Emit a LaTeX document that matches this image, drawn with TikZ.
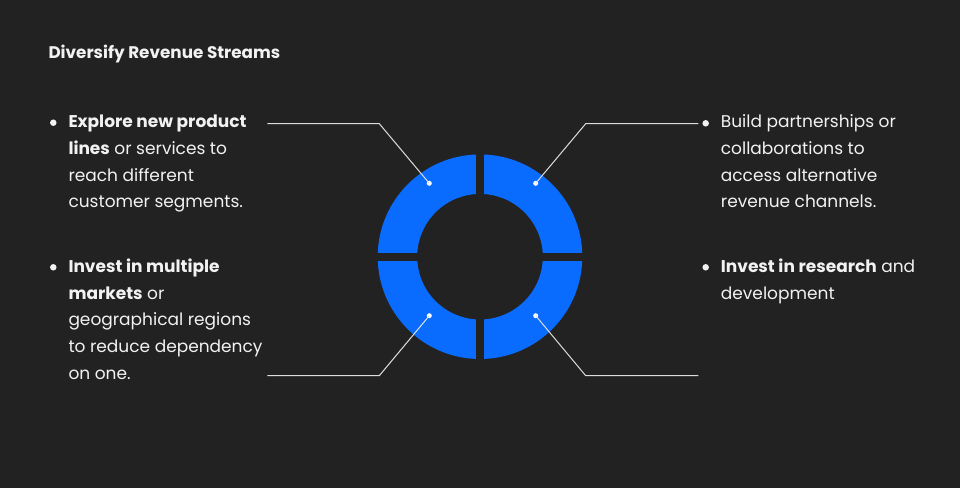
\documentclass[tikz,border=0pt]{standalone}
\usepackage{fontspec}
\setmainfont{Poppins}
\usetikzlibrary{positioning}
\definecolor{bgcolor}{HTML}{222222}
\definecolor{ringblue}{HTML}{0A6CFF}
\definecolor{txtcolor}{HTML}{F2F2F2}
\definecolor{linecolor}{HTML}{DDDDDD}

\begin{document}
\begin{tikzpicture}[x=1pt, y=-1pt, every node/.style={font=\fontsize{17}{26.7}\selectfont, text=txtcolor}]
\tikzstyle{txt}=[anchor=base west, inner sep=0pt, align=left]
\tikzstyle{dot}=[circle, fill=white, inner sep=0pt, minimum size=5pt]
\tikzstyle{bul}=[circle, fill=txtcolor, inner sep=0pt, minimum size=6.5pt]
\tikzstyle{ld}=[draw=linecolor, line width=1pt]

\fill[bgcolor] (0,0) rectangle (960,488);
\useasboundingbox (0,0) rectangle (960,488);

% title
\node[anchor=base west, inner sep=0pt, font=\fontsize{16.8}{20}\selectfont\bfseries] (title) at (48.3,58.3) {Diversify Revenue Streams};

% ring, cut in four
\fill[ringblue, even odd rule] (480,256.7) circle (102.3pt) (480,256.7) circle (62.8pt);
\fill[bgcolor] (476,150) rectangle (484,364);
\fill[bgcolor] (374,252.7) rectangle (586,260.7);

% dots on the ring
\node[dot] (d1) at (429.3,183.3) {};
\node[dot] (d2) at (535.7,183.3) {};
\node[dot] (d3) at (429.3,315.7) {};
\node[dot] (d4) at (535.7,315.7) {};

% leader lines
\coordinate (e1) at (379.3,123.7); \coordinate (t1) at (267.3,123.7);
\coordinate (e2) at (585.7,123.7); \coordinate (t2) at (698.3,123.7);
\coordinate (e3) at (379.3,375.7); \coordinate (t3) at (267.3,375.7);
\coordinate (e4) at (585.7,375.7); \coordinate (t4) at (698.3,375.7);
\draw[ld] (d1.center) -- (e1) -- (t1);
\draw[ld] (d2.center) -- (e2) -- (t2);
\draw[ld] (d3.center) -- (e3) -- (t3);
\draw[ld] (d4.center) -- (e4) -- (t4);

% bullets and texts (base anchor sits on the last line)
\node[bul] (b1) at (53.3,122.7) {};
\node[txt] (p1) at (68.3,207.8) {\textbf{Explore new product}\\\textbf{lines} or services to\\reach different\\customer segments.};
\node[bul] (b2) at (705.7,123.3) {};
\node[txt] (p2) at (720.7,207.8) {Build partnerships or\\collaborations to\\access alternative\\revenue channels.};
\node[bul] (b3) at (53.3,267.3) {};
\node[txt] (p3) at (68.3,379.1) {\textbf{Invest in multiple}\\\textbf{markets} or\\geographical regions\\to reduce dependency\\on one.};
\node[bul] (b4) at (705.7,267.3) {};
\node[txt] (p4) at (720.7,299) {\textbf{Invest in research} and\\development};
\end{tikzpicture}
\end{document}
